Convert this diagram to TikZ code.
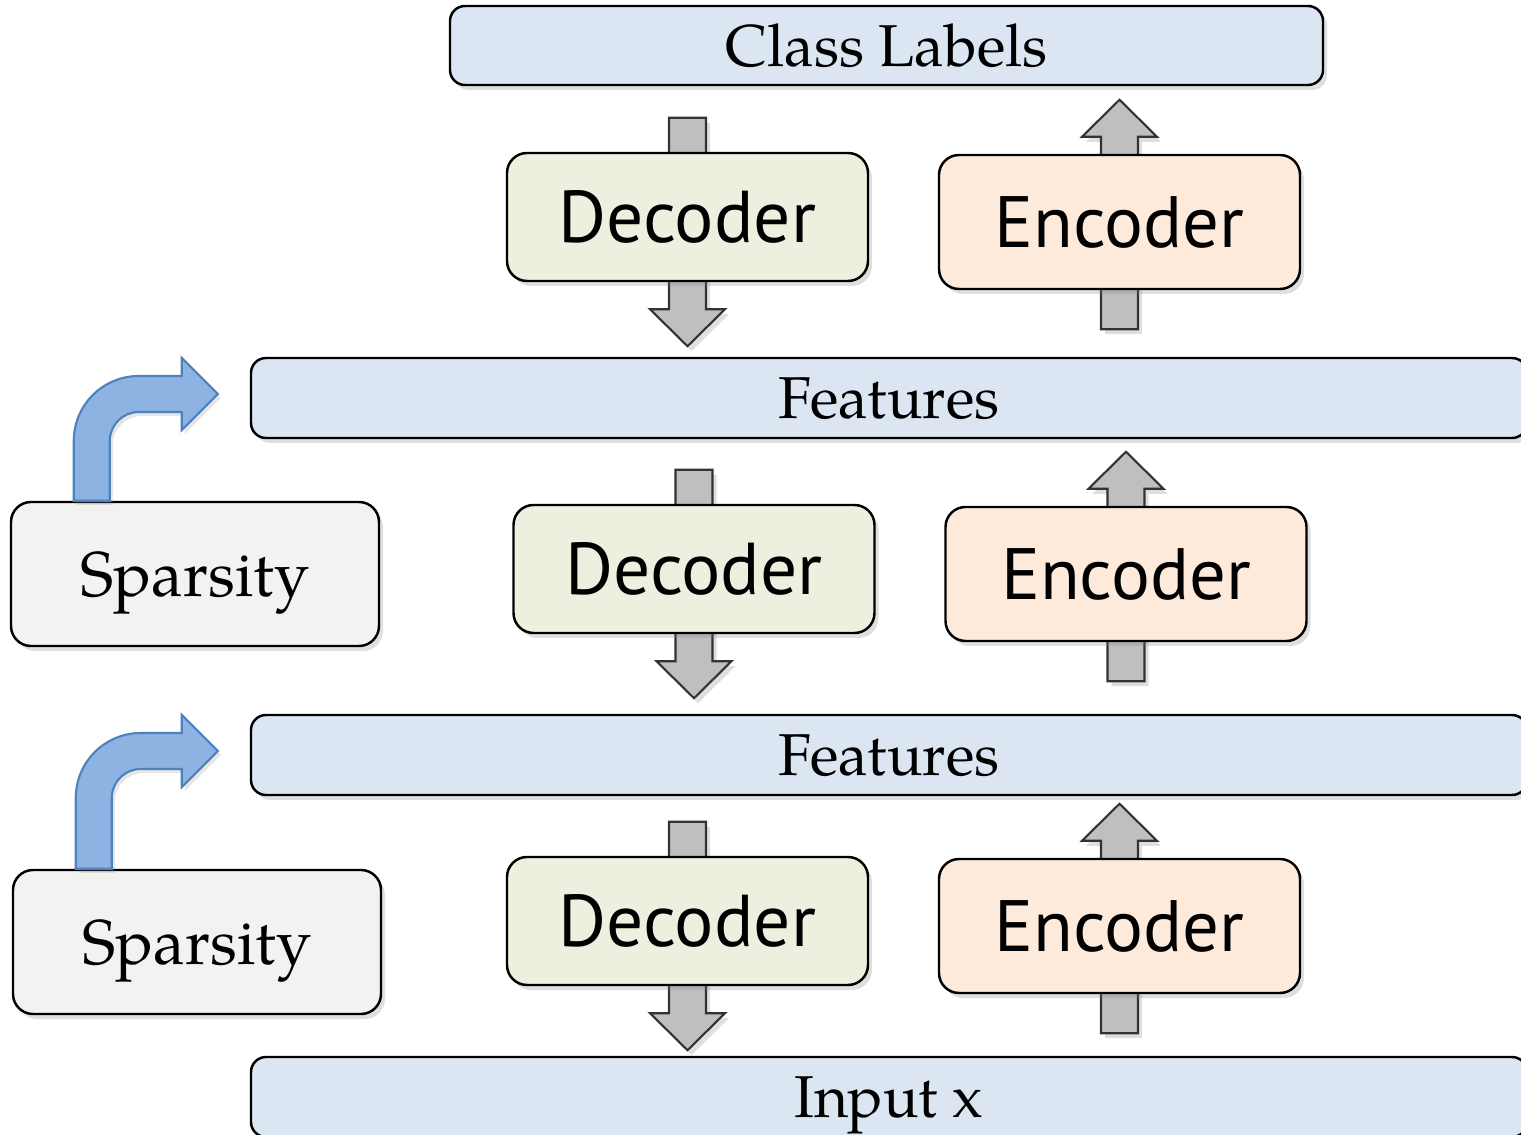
\documentclass[tikz,border=0pt]{standalone}
\usepackage{fontspec}
\usetikzlibrary{calc,shadows}
\newfontfamily\palfont{texgyrepagella-regular.otf}
\newfontfamily\coderfont{PT Sans}

\definecolor{layerblue}{HTML}{DCE6F2}
\definecolor{decgreen}{HTML}{EBF1DE}
\definecolor{encorange}{HTML}{FDEADA}
\definecolor{sparsegray}{HTML}{F2F2F2}
\definecolor{arrowgray}{HTML}{BFBFBF}
\definecolor{bendfill}{HTML}{8DB3E2}
\definecolor{benddraw}{HTML}{4F81BD}

\pgfdeclarelayer{background}
\pgfsetlayers{background,main}

\tikzset{
  softshadow/.style={drop shadow={shadow xshift=0.04cm, shadow yshift=-0.05cm, opacity=0.25}},
  box/.style={rectangle, rounded corners=0.2cm, draw=black, line width=0.7pt, softshadow},
  layer/.style={box, rounded corners=0.15cm, fill=layerblue, minimum height=0.8cm,
    text depth=0pt, font=\palfont\fontsize{16.8}{20}\selectfont},
  decbox/.style={box, fill=decgreen, minimum width=3.61cm, minimum height=1.28cm,
    font=\coderfont\fontsize{20.9}{24}\selectfont},
  encbox/.style={box, fill=encorange, minimum width=3.61cm, minimum height=1.34cm,
    font=\coderfont\fontsize{20.7}{24}\selectfont},
  sparsebox/.style={box, fill=sparsegray, minimum width=3.68cm, minimum height=1.44cm,
    text depth=0pt, font=\palfont\fontsize{18}{22}\selectfont},
  grayarrow/.style={fill=arrowgray, draw=black!80, line width=0.6pt, softshadow},
  bendarrow/.style={fill=bendfill, draw=benddraw, line width=0.6pt,
    drop shadow={shadow xshift=0.03cm, shadow yshift=-0.04cm, opacity=0.2}}
}

% vertical block arrow from #1 to #2: shaft 0.37cm, head 0.75cm wide, 0.37cm long
\newcommand{\blockarrow}[2]{%
  \path[grayarrow] let \p1=#1, \p2=#2, \n1={(\y2-\y1)/abs(\y2-\y1)} in
    ({\x1-0.185cm},{\y1}) -- ({\x1-0.185cm},{\y2-(\n1)*0.37cm})
    -- ({\x1-0.375cm},{\y2-(\n1)*0.37cm}) -- (\x2,\y2)
    -- ({\x1+0.375cm},{\y2-(\n1)*0.37cm}) -- ({\x1+0.185cm},{\y2-(\n1)*0.37cm})
    -- ({\x1+0.185cm},{\y1}) -- cycle;}

% bent arrow from the top of #1 round to the left side of #2
\newcommand{\bentarrow}[2]{%
  \path[bendarrow] let \p1=(#1.north west), \p2=(#2.west) in
    (\x1+0.64cm,\y1) -- (\x1+0.64cm,\y2-0.43cm)
    arc[start angle=180, end angle=90, radius=0.65cm]
    -- (\x2-0.68cm,\y2+0.22cm) -- (\x2-0.68cm,\y2+0.40cm) -- (\x2-0.32cm,\y2+0.04cm)
    -- (\x2-0.68cm,\y2-0.32cm) -- (\x2-0.68cm,\y2-0.14cm) -- (\x1+1.29cm,\y2-0.14cm)
    arc[start angle=90, end angle=180, radius=0.29cm]
    -- (\x1+1.00cm,\y1) -- cycle;}

\begin{document}
\begin{tikzpicture}
  \useasboundingbox (0,0) rectangle (15.21,11.34);

  \node[layer, minimum width=8.73cm, minimum height=0.79cm] (labels) at (8.865,10.885) {Class Labels};
  \node[layer, minimum width=12.76cm] (feat1) at (8.89,7.36) {Features};
  \node[layer, minimum width=12.76cm] (feat2) at (8.89,3.79) {Features};
  \node[layer, minimum width=12.76cm] (input) at (8.89,0.37) {Input x};

  \node[decbox] (dec1) at (6.875,9.17) {Decoder};
  \node[encbox] (enc1) at (11.195,9.12) {Encoder};
  \node[decbox] (dec2) at (6.94,5.65) {Decoder};
  \node[encbox] (enc2) at (11.26,5.60) {Encoder};
  \node[decbox] (dec3) at (6.875,2.13) {Decoder};
  \node[encbox] (enc3) at (11.195,2.08) {Encoder};

  \node[sparsebox] (sp1) at (1.95,5.60) {Sparsity};
  \node[sparsebox] (sp2) at (1.97,1.92) {Sparsity};

  \begin{pgfonlayer}{background}
    \foreach \i in {1,2,3} {
      \blockarrow{($(dec\i.north)+(0,0.34)$)}{($(dec\i.south)+(0,-0.64)$)}
      \blockarrow{($(enc\i.south)+(0,-0.39)$)}{($(enc\i.north)+(0,0.54)$)}
    }
  \end{pgfonlayer}

  \bentarrow{sp1}{feat1}
  \bentarrow{sp2}{feat2}
\end{tikzpicture}
\end{document}
